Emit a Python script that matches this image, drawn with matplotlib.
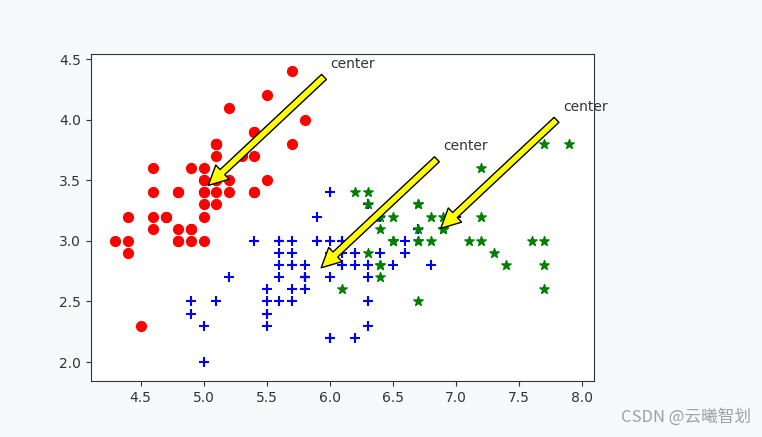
import matplotlib
matplotlib.use("Agg")
import matplotlib.pyplot as plt

# sepal length / sepal width per cluster
red_x = [5.1, 4.9, 4.7, 4.6, 5.0, 5.4, 4.6, 5.0, 4.4, 4.9, 5.4, 4.8, 4.8, 4.3, 5.8, 5.7, 5.4,
         5.1, 5.7, 5.1, 5.4, 5.1, 4.6, 5.1, 4.8, 5.0, 5.0, 5.2, 5.2, 4.7, 4.8, 5.4, 5.2, 5.5,
         4.9, 5.0, 5.5, 4.9, 4.4, 5.1, 5.0, 4.5, 4.4, 5.0, 5.1, 4.8, 5.1, 4.6, 5.3, 5.0]
red_y = [3.5, 3.0, 3.2, 3.1, 3.6, 3.9, 3.4, 3.4, 2.9, 3.1, 3.7, 3.4, 3.0, 3.0, 4.0, 4.4, 3.9,
         3.5, 3.8, 3.8, 3.4, 3.7, 3.6, 3.3, 3.4, 3.0, 3.4, 3.5, 3.4, 3.2, 3.1, 3.4, 4.1, 4.2,
         3.1, 3.2, 3.5, 3.6, 3.0, 3.4, 3.5, 2.3, 3.2, 3.5, 3.8, 3.0, 3.8, 3.2, 3.7, 3.3]

blue_x = [7.0, 6.4, 5.5, 6.5, 5.7, 6.3, 4.9, 6.6, 5.2, 5.0, 5.9, 6.0, 6.1, 5.6, 6.7, 5.6,
          5.8, 6.2, 5.6, 5.9, 6.1, 6.3, 6.1, 6.4, 6.6, 6.8, 6.0, 5.7, 5.5, 5.5, 5.8, 6.0,
          5.4, 6.0, 6.7, 6.3, 5.6, 5.5, 5.5, 6.1, 5.8, 5.0, 5.6, 5.7, 5.7, 6.2, 5.1, 5.7,
          5.8, 4.9, 5.7, 5.8, 6.0, 5.6, 6.3, 6.2, 6.1, 6.3, 6.0, 5.8, 6.3, 5.9]
blue_y = [3.2, 3.2, 2.3, 2.8, 2.8, 3.3, 2.4, 2.9, 2.7, 2.0, 3.0, 2.2, 2.9, 2.9, 3.1, 3.0,
          2.7, 2.2, 2.5, 3.2, 2.8, 2.5, 2.8, 2.9, 3.0, 2.8, 2.9, 2.6, 2.4, 2.4, 2.7, 2.7,
          3.0, 3.4, 3.1, 2.3, 3.0, 2.5, 2.6, 3.0, 2.6, 2.3, 2.7, 3.0, 2.9, 2.9, 2.5, 2.8,
          2.7, 2.5, 2.5, 2.8, 2.2, 2.8, 2.7, 2.8, 3.0, 2.8, 3.0, 2.7, 2.5, 3.0]

green_x = [6.9, 6.7, 6.3, 7.1, 6.3, 6.5, 7.6, 7.3, 6.7, 7.2, 6.5, 6.4, 6.8, 6.4, 6.5, 7.7,
           7.7, 6.9, 7.7, 6.7, 7.2, 6.4, 7.2, 7.4, 7.9, 6.4, 6.1, 7.7, 6.3, 6.4, 6.9, 6.7,
           6.9, 6.8, 6.7, 6.7, 6.5, 6.2]
green_y = [3.1, 3.0, 3.3, 3.0, 2.9, 3.0, 3.0, 2.9, 2.5, 3.6, 3.2, 2.7, 3.0, 3.2, 3.0, 3.8,
           2.6, 3.2, 2.8, 3.3, 3.2, 2.8, 3.0, 2.8, 3.8, 2.8, 2.6, 3.0, 3.4, 3.1, 3.1, 3.1,
           3.1, 3.2, 3.3, 3.0, 3.0, 3.4]

centers_x = [5.006, 5.9016, 6.85]
centers_y = [3.428, 2.7484, 3.0737]

fig = plt.figure(figsize=(7.62, 4.37), dpi=100, facecolor="#f8f9fb")
ax = fig.add_axes([0.1194, 0.128, 0.6601, 0.7477])
ax.set_facecolor("white")

ax.scatter(red_x, red_y, c="r", marker="o", s=50)
ax.scatter(blue_x, blue_y, c="b", marker="+", s=50)
ax.scatter(green_x, green_y, c="g", marker="*", s=50)

for cx, cy in zip(centers_x, centers_y):
    ax.annotate("center", xy=(cx, cy), xytext=(cx + 1, cy + 1), fontsize=10, color="#333333",
                arrowprops=dict(facecolor="yellow", edgecolor="black", shrink=0.03,
                                width=5, headwidth=14, headlength=14))

ax.set_xlim(4.106, 8.095)
ax.set_ylim(1.843, 4.539)
ax.tick_params(labelsize=10, colors="#333333")
for sp in ax.spines.values():
    sp.set_color("#333333")

fig.text(0.985, 0.045, "CSDN @云曦智划", ha="right", va="center", fontsize=12,
         color="#a0a0a0", family=["Noto Sans CJK SC", "DejaVu Sans"])

fig.savefig("out.png", dpi=100, facecolor=fig.get_facecolor())
